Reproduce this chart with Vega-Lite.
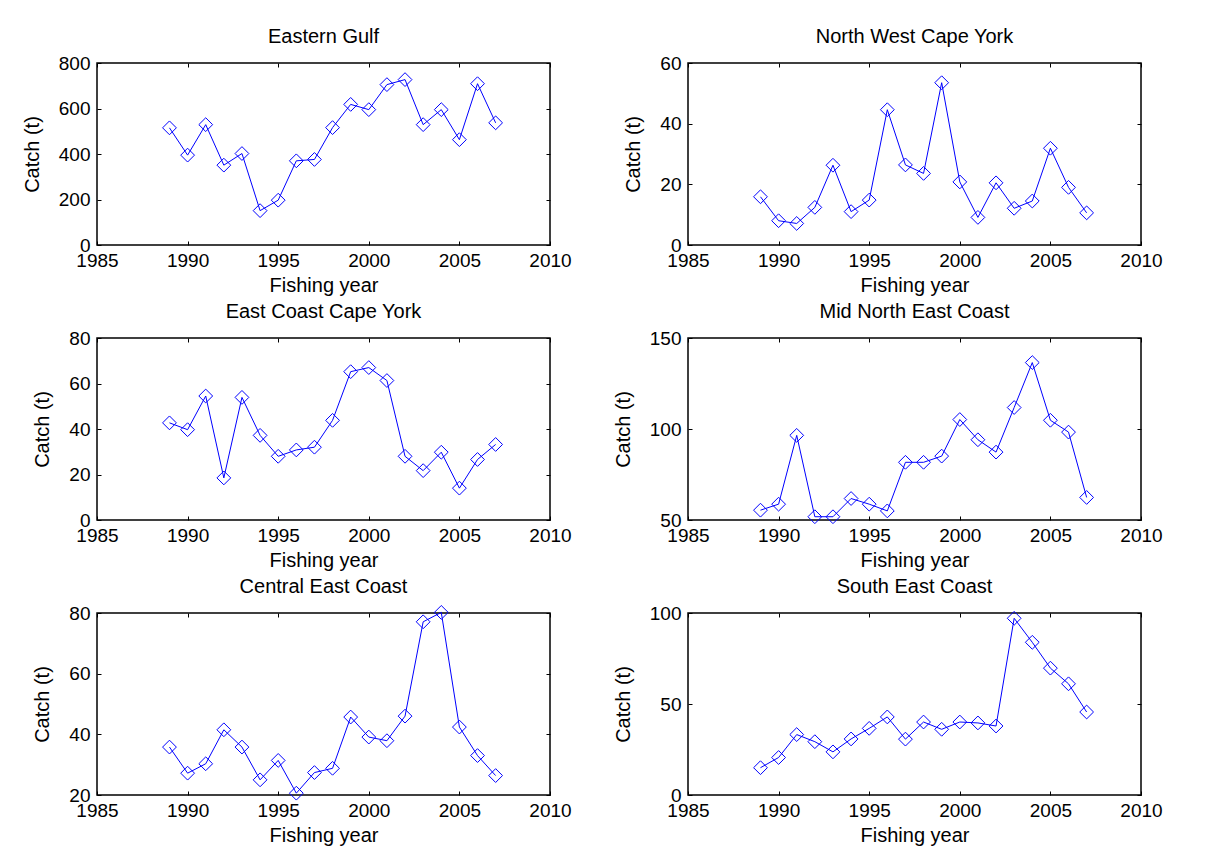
{
  "$schema": "https://vega.github.io/schema/vega-lite/v6.json",
  "padding": {"left": 21, "top": 26, "right": 10, "bottom": 10},
  "background": "white",
  "datasets": {
    "catch": [
      {"region": "Eastern Gulf", "year": 1989, "catch": 515},
      {"region": "Eastern Gulf", "year": 1990, "catch": 395},
      {"region": "Eastern Gulf", "year": 1991, "catch": 529},
      {"region": "Eastern Gulf", "year": 1992, "catch": 351},
      {"region": "Eastern Gulf", "year": 1993, "catch": 402},
      {"region": "Eastern Gulf", "year": 1994, "catch": 151},
      {"region": "Eastern Gulf", "year": 1995, "catch": 197},
      {"region": "Eastern Gulf", "year": 1996, "catch": 370},
      {"region": "Eastern Gulf", "year": 1997, "catch": 376},
      {"region": "Eastern Gulf", "year": 1998, "catch": 516},
      {"region": "Eastern Gulf", "year": 1999, "catch": 618},
      {"region": "Eastern Gulf", "year": 2000, "catch": 595},
      {"region": "Eastern Gulf", "year": 2001, "catch": 705},
      {"region": "Eastern Gulf", "year": 2002, "catch": 727},
      {"region": "Eastern Gulf", "year": 2003, "catch": 529},
      {"region": "Eastern Gulf", "year": 2004, "catch": 595},
      {"region": "Eastern Gulf", "year": 2005, "catch": 463},
      {"region": "Eastern Gulf", "year": 2006, "catch": 709},
      {"region": "Eastern Gulf", "year": 2007, "catch": 537},
      {"region": "North West Cape York", "year": 1989, "catch": 15.9},
      {"region": "North West Cape York", "year": 1990, "catch": 8.0},
      {"region": "North West Cape York", "year": 1991, "catch": 7.1},
      {"region": "North West Cape York", "year": 1992, "catch": 12.4},
      {"region": "North West Cape York", "year": 1993, "catch": 26.3},
      {"region": "North West Cape York", "year": 1994, "catch": 11.0},
      {"region": "North West Cape York", "year": 1995, "catch": 14.8},
      {"region": "North West Cape York", "year": 1996, "catch": 44.6},
      {"region": "North West Cape York", "year": 1997, "catch": 26.4},
      {"region": "North West Cape York", "year": 1998, "catch": 23.6},
      {"region": "North West Cape York", "year": 1999, "catch": 53.5},
      {"region": "North West Cape York", "year": 2000, "catch": 20.8},
      {"region": "North West Cape York", "year": 2001, "catch": 9.1},
      {"region": "North West Cape York", "year": 2002, "catch": 20.5},
      {"region": "North West Cape York", "year": 2003, "catch": 12.1},
      {"region": "North West Cape York", "year": 2004, "catch": 14.5},
      {"region": "North West Cape York", "year": 2005, "catch": 31.9},
      {"region": "North West Cape York", "year": 2006, "catch": 19.0},
      {"region": "North West Cape York", "year": 2007, "catch": 10.6},
      {"region": "East Coast Cape York", "year": 1989, "catch": 42.7},
      {"region": "East Coast Cape York", "year": 1990, "catch": 39.7},
      {"region": "East Coast Cape York", "year": 1991, "catch": 54.5},
      {"region": "East Coast Cape York", "year": 1992, "catch": 18.5},
      {"region": "East Coast Cape York", "year": 1993, "catch": 53.9},
      {"region": "East Coast Cape York", "year": 1994, "catch": 37.2},
      {"region": "East Coast Cape York", "year": 1995, "catch": 28.0},
      {"region": "East Coast Cape York", "year": 1996, "catch": 30.8},
      {"region": "East Coast Cape York", "year": 1997, "catch": 32.0},
      {"region": "East Coast Cape York", "year": 1998, "catch": 43.8},
      {"region": "East Coast Cape York", "year": 1999, "catch": 65.2},
      {"region": "East Coast Cape York", "year": 2000, "catch": 67.0},
      {"region": "East Coast Cape York", "year": 2001, "catch": 61.3},
      {"region": "East Coast Cape York", "year": 2002, "catch": 28.0},
      {"region": "East Coast Cape York", "year": 2003, "catch": 21.7},
      {"region": "East Coast Cape York", "year": 2004, "catch": 29.8},
      {"region": "East Coast Cape York", "year": 2005, "catch": 14.0},
      {"region": "East Coast Cape York", "year": 2006, "catch": 26.6},
      {"region": "East Coast Cape York", "year": 2007, "catch": 33.2},
      {"region": "Mid North East Coast", "year": 1989, "catch": 55.4},
      {"region": "Mid North East Coast", "year": 1990, "catch": 58.7},
      {"region": "Mid North East Coast", "year": 1991, "catch": 96.5},
      {"region": "Mid North East Coast", "year": 1992, "catch": 51.8},
      {"region": "Mid North East Coast", "year": 1993, "catch": 51.8},
      {"region": "Mid North East Coast", "year": 1994, "catch": 61.8},
      {"region": "Mid North East Coast", "year": 1995, "catch": 58.7},
      {"region": "Mid North East Coast", "year": 1996, "catch": 55.0},
      {"region": "Mid North East Coast", "year": 1997, "catch": 81.7},
      {"region": "Mid North East Coast", "year": 1998, "catch": 81.7},
      {"region": "Mid North East Coast", "year": 1999, "catch": 85.1},
      {"region": "Mid North East Coast", "year": 2000, "catch": 105.2},
      {"region": "Mid North East Coast", "year": 2001, "catch": 94.1},
      {"region": "Mid North East Coast", "year": 2002, "catch": 87.3},
      {"region": "Mid North East Coast", "year": 2003, "catch": 111.8},
      {"region": "Mid North East Coast", "year": 2004, "catch": 136.5},
      {"region": "Mid North East Coast", "year": 2005, "catch": 104.8},
      {"region": "Mid North East Coast", "year": 2006, "catch": 98.3},
      {"region": "Mid North East Coast", "year": 2007, "catch": 62.4},
      {"region": "Central East Coast", "year": 1989, "catch": 35.8},
      {"region": "Central East Coast", "year": 1990, "catch": 27.2},
      {"region": "Central East Coast", "year": 1991, "catch": 30.3},
      {"region": "Central East Coast", "year": 1992, "catch": 41.5},
      {"region": "Central East Coast", "year": 1993, "catch": 35.8},
      {"region": "Central East Coast", "year": 1994, "catch": 25.0},
      {"region": "Central East Coast", "year": 1995, "catch": 31.4},
      {"region": "Central East Coast", "year": 1996, "catch": 20.6},
      {"region": "Central East Coast", "year": 1997, "catch": 27.4},
      {"region": "Central East Coast", "year": 1998, "catch": 28.8},
      {"region": "Central East Coast", "year": 1999, "catch": 45.7},
      {"region": "Central East Coast", "year": 2000, "catch": 39.1},
      {"region": "Central East Coast", "year": 2001, "catch": 37.9},
      {"region": "Central East Coast", "year": 2002, "catch": 46.0},
      {"region": "Central East Coast", "year": 2003, "catch": 77.1},
      {"region": "Central East Coast", "year": 2004, "catch": 80.2},
      {"region": "Central East Coast", "year": 2005, "catch": 42.4},
      {"region": "Central East Coast", "year": 2006, "catch": 33.0},
      {"region": "Central East Coast", "year": 2007, "catch": 26.4},
      {"region": "South East Coast", "year": 1989, "catch": 15.0},
      {"region": "South East Coast", "year": 1990, "catch": 20.6},
      {"region": "South East Coast", "year": 1991, "catch": 33.2},
      {"region": "South East Coast", "year": 1992, "catch": 29.3},
      {"region": "South East Coast", "year": 1993, "catch": 23.7},
      {"region": "South East Coast", "year": 1994, "catch": 30.8},
      {"region": "South East Coast", "year": 1995, "catch": 36.6},
      {"region": "South East Coast", "year": 1996, "catch": 42.9},
      {"region": "South East Coast", "year": 1997, "catch": 30.7},
      {"region": "South East Coast", "year": 1998, "catch": 40.1},
      {"region": "South East Coast", "year": 1999, "catch": 36.1},
      {"region": "South East Coast", "year": 2000, "catch": 40.1},
      {"region": "South East Coast", "year": 2001, "catch": 39.6},
      {"region": "South East Coast", "year": 2002, "catch": 37.9},
      {"region": "South East Coast", "year": 2003, "catch": 97.1},
      {"region": "South East Coast", "year": 2004, "catch": 83.9},
      {"region": "South East Coast", "year": 2005, "catch": 69.7},
      {"region": "South East Coast", "year": 2006, "catch": 61.1},
      {"region": "South East Coast", "year": 2007, "catch": 45.6}
    ]
  },
  "data": {"name": "catch"},
  "columns": 2,
  "spacing": {"row": 93, "column": 138},
  "bounds": "flush",
  "concat": [
    {
      "title": "Eastern Gulf",
      "width": 453, "height": 182,
      "transform": [{"filter": "datum.region === 'Eastern Gulf'"}],
      "layer": [
        {
          "mark": {"type": "line", "color": "#0000ff", "strokeWidth": 1, "point": {"shape": "diamond", "filled": false, "size": 190, "color": "#0000ff", "strokeWidth": 1}},
          "encoding": {
            "x": {"field": "year", "type": "quantitative", "scale": {"domain": [1985, 2010], "nice": false, "zero": false}, "axis": {"orient": "bottom", "values": [1985, 1990, 1995, 2000, 2005, 2010], "format": "d", "title": "Fishing year"}},
            "y": {"field": "catch", "type": "quantitative", "scale": {"domain": [0, 800], "nice": false, "zero": false}, "axis": {"orient": "left", "values": [0, 200, 400, 600, 800], "title": "Catch (t)"}}
          }
        },
        {
          "mark": {"type": "point", "opacity": 0},
          "encoding": {
            "x": {"field": "year", "type": "quantitative", "axis": {"orient": "top", "values": [1985, 1990, 1995, 2000, 2005, 2010], "labels": false, "title": null}},
            "y": {"field": "catch", "type": "quantitative", "axis": {"orient": "right", "values": [0, 200, 400, 600, 800], "labels": false, "title": null}}
          }
        }
      ],
      "resolve": {"axis": {"x": "independent", "y": "independent"}}
    },
    {
      "title": "North West Cape York",
      "width": 453, "height": 182,
      "transform": [{"filter": "datum.region === 'North West Cape York'"}],
      "layer": [
        {
          "mark": {"type": "line", "color": "#0000ff", "strokeWidth": 1, "point": {"shape": "diamond", "filled": false, "size": 190, "color": "#0000ff", "strokeWidth": 1}},
          "encoding": {
            "x": {"field": "year", "type": "quantitative", "scale": {"domain": [1985, 2010], "nice": false, "zero": false}, "axis": {"orient": "bottom", "values": [1985, 1990, 1995, 2000, 2005, 2010], "format": "d", "title": "Fishing year"}},
            "y": {"field": "catch", "type": "quantitative", "scale": {"domain": [0, 60], "nice": false, "zero": false}, "axis": {"orient": "left", "values": [0, 20, 40, 60], "title": "Catch (t)"}}
          }
        },
        {
          "mark": {"type": "point", "opacity": 0},
          "encoding": {
            "x": {"field": "year", "type": "quantitative", "axis": {"orient": "top", "values": [1985, 1990, 1995, 2000, 2005, 2010], "labels": false, "title": null}},
            "y": {"field": "catch", "type": "quantitative", "axis": {"orient": "right", "values": [0, 20, 40, 60], "labels": false, "title": null}}
          }
        }
      ],
      "resolve": {"axis": {"x": "independent", "y": "independent"}}
    },
    {
      "title": "East Coast Cape York",
      "width": 453, "height": 182,
      "transform": [{"filter": "datum.region === 'East Coast Cape York'"}],
      "layer": [
        {
          "mark": {"type": "line", "color": "#0000ff", "strokeWidth": 1, "point": {"shape": "diamond", "filled": false, "size": 190, "color": "#0000ff", "strokeWidth": 1}},
          "encoding": {
            "x": {"field": "year", "type": "quantitative", "scale": {"domain": [1985, 2010], "nice": false, "zero": false}, "axis": {"orient": "bottom", "values": [1985, 1990, 1995, 2000, 2005, 2010], "format": "d", "title": "Fishing year"}},
            "y": {"field": "catch", "type": "quantitative", "scale": {"domain": [0, 80], "nice": false, "zero": false}, "axis": {"orient": "left", "values": [0, 20, 40, 60, 80], "title": "Catch (t)"}}
          }
        },
        {
          "mark": {"type": "point", "opacity": 0},
          "encoding": {
            "x": {"field": "year", "type": "quantitative", "axis": {"orient": "top", "values": [1985, 1990, 1995, 2000, 2005, 2010], "labels": false, "title": null}},
            "y": {"field": "catch", "type": "quantitative", "axis": {"orient": "right", "values": [0, 20, 40, 60, 80], "labels": false, "title": null}}
          }
        }
      ],
      "resolve": {"axis": {"x": "independent", "y": "independent"}}
    },
    {
      "title": "Mid North East Coast",
      "width": 453, "height": 182,
      "transform": [{"filter": "datum.region === 'Mid North East Coast'"}],
      "layer": [
        {
          "mark": {"type": "line", "color": "#0000ff", "strokeWidth": 1, "point": {"shape": "diamond", "filled": false, "size": 190, "color": "#0000ff", "strokeWidth": 1}},
          "encoding": {
            "x": {"field": "year", "type": "quantitative", "scale": {"domain": [1985, 2010], "nice": false, "zero": false}, "axis": {"orient": "bottom", "values": [1985, 1990, 1995, 2000, 2005, 2010], "format": "d", "title": "Fishing year"}},
            "y": {"field": "catch", "type": "quantitative", "scale": {"domain": [50, 150], "nice": false, "zero": false}, "axis": {"orient": "left", "values": [50, 100, 150], "title": "Catch (t)"}}
          }
        },
        {
          "mark": {"type": "point", "opacity": 0},
          "encoding": {
            "x": {"field": "year", "type": "quantitative", "axis": {"orient": "top", "values": [1985, 1990, 1995, 2000, 2005, 2010], "labels": false, "title": null}},
            "y": {"field": "catch", "type": "quantitative", "axis": {"orient": "right", "values": [50, 100, 150], "labels": false, "title": null}}
          }
        }
      ],
      "resolve": {"axis": {"x": "independent", "y": "independent"}}
    },
    {
      "title": "Central East Coast",
      "width": 453, "height": 182,
      "transform": [{"filter": "datum.region === 'Central East Coast'"}],
      "layer": [
        {
          "mark": {"type": "line", "color": "#0000ff", "strokeWidth": 1, "point": {"shape": "diamond", "filled": false, "size": 190, "color": "#0000ff", "strokeWidth": 1}},
          "encoding": {
            "x": {"field": "year", "type": "quantitative", "scale": {"domain": [1985, 2010], "nice": false, "zero": false}, "axis": {"orient": "bottom", "values": [1985, 1990, 1995, 2000, 2005, 2010], "format": "d", "title": "Fishing year"}},
            "y": {"field": "catch", "type": "quantitative", "scale": {"domain": [20, 80], "nice": false, "zero": false}, "axis": {"orient": "left", "values": [20, 40, 60, 80], "title": "Catch (t)"}}
          }
        },
        {
          "mark": {"type": "point", "opacity": 0},
          "encoding": {
            "x": {"field": "year", "type": "quantitative", "axis": {"orient": "top", "values": [1985, 1990, 1995, 2000, 2005, 2010], "labels": false, "title": null}},
            "y": {"field": "catch", "type": "quantitative", "axis": {"orient": "right", "values": [20, 40, 60, 80], "labels": false, "title": null}}
          }
        }
      ],
      "resolve": {"axis": {"x": "independent", "y": "independent"}}
    },
    {
      "title": "South East Coast",
      "width": 453, "height": 182,
      "transform": [{"filter": "datum.region === 'South East Coast'"}],
      "layer": [
        {
          "mark": {"type": "line", "color": "#0000ff", "strokeWidth": 1, "point": {"shape": "diamond", "filled": false, "size": 190, "color": "#0000ff", "strokeWidth": 1}},
          "encoding": {
            "x": {"field": "year", "type": "quantitative", "scale": {"domain": [1985, 2010], "nice": false, "zero": false}, "axis": {"orient": "bottom", "values": [1985, 1990, 1995, 2000, 2005, 2010], "format": "d", "title": "Fishing year"}},
            "y": {"field": "catch", "type": "quantitative", "scale": {"domain": [0, 100], "nice": false, "zero": false}, "axis": {"orient": "left", "values": [0, 50, 100], "title": "Catch (t)"}}
          }
        },
        {
          "mark": {"type": "point", "opacity": 0},
          "encoding": {
            "x": {"field": "year", "type": "quantitative", "axis": {"orient": "top", "values": [1985, 1990, 1995, 2000, 2005, 2010], "labels": false, "title": null}},
            "y": {"field": "catch", "type": "quantitative", "axis": {"orient": "right", "values": [0, 50, 100], "labels": false, "title": null}}
          }
        }
      ],
      "resolve": {"axis": {"x": "independent", "y": "independent"}}
    }
  ],
  "config": {
    "font": "Liberation Sans",
    "view": {"stroke": "#000000", "strokeWidth": 1.5},
    "axis": {
      "domain": false,
      "grid": false,
      "labelFlush": false,
      "labelFont": "Liberation Sans",
      "labelFontSize": 19,
      "labelColor": "#000000",
      "titleFont": "Liberation Sans",
      "titleFontSize": 20,
      "titleFontWeight": "normal",
      "titleColor": "#000000",
      "tickColor": "#000000",
      "tickSize": -4,
      "tickWidth": 1
    },
    "axisX": {"labelPadding": 10, "titlePadding": 5},
    "axisY": {"labelPadding": 11, "titlePadding": 16},
    "title": {"font": "Liberation Sans", "fontSize": 20, "fontWeight": "normal", "color": "#000000", "baseline": "alphabetic", "offset": 7}
  }
}
